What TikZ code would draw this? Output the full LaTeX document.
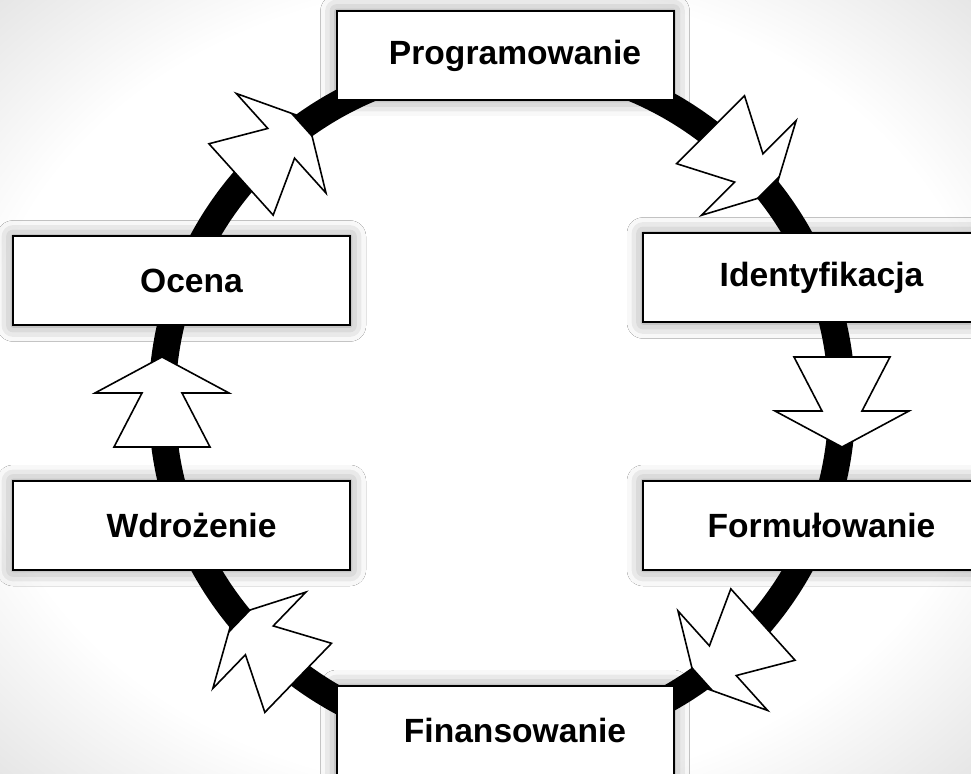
\documentclass[tikz,border=0pt]{standalone}
\usepackage{fontspec}
\setmainfont{Liberation Sans}
\usetikzlibrary{shadows.blur}
\pgfdeclareradialshading{tlo}{\pgfpoint{0bp}{0bp}}{color(0bp)=(white); color(26bp)=(white); color(50bp)=(black!25); color(100bp)=(black!32)}

\tikzset{
  etap/.style={rectangle, draw=black, fill=white, line width=1pt,
    minimum width=168.5pt, minimum height=44.5pt, inner sep=0pt,
    font=\fontsize{16.8}{20}\selectfont\bfseries,
    execute at begin node={\hspace*{10pt}},
    blur shadow={shadow xshift=0pt, shadow yshift=0pt, shadow blur radius=8pt, shadow opacity=45}},
  strzalka/.pic={
    \filldraw[fill=white, draw=black, line width=0.8pt]
      (-45,48) -- (9,20) -- (9,67) -- (45,0) -- (9,-67) -- (9,-20) -- (-45,-48) -- cycle;
  },
  czubek/.pic={
    \fill[black] (45,0) -- (36,16.75) -- (36,-16.75) -- cycle;
  }
}

\begin{document}
\begin{tikzpicture}[x=0.5pt, y=0.5pt]
  \useasboundingbox (0,0) rectangle (971,-774);
  \clip (0,0) rectangle (971,-774);
  \fill[shading=tlo] (0,0) rectangle (971,-774);

  % cykl
  \coordinate (srodek) at (502,-402);
  \draw[line width=13.5pt] (srodek) circle[radius=340];

  % strzalki na okregu
  \foreach \a in {132,45,0,-48,-134,180}
    \path (srodek) ++(\a:340) pic[rotate=\a-90] {strzalka};
  \foreach \a in {132,45,-48,-134}
    \path (srodek) ++(\a:340) pic[rotate=\a-90] {czubek};

  % etapy
  \node[etap] (prog)  at (505,-55.5)   {Programowanie};
  \node[etap] (ident) at (811.5,-278)  {Identyfikacja};
  \node[etap] (form)  at (811.5,-525.5) {Formułowanie};
  \node[etap] (fin)   at (505,-730.5)  {Finansowanie};
  \node[etap] (wdroz) at (181.5,-525.5) {Wdrożenie};
  \node[etap] (ocena) at (181.5,-281)  {Ocena};
\end{tikzpicture}
\end{document}
